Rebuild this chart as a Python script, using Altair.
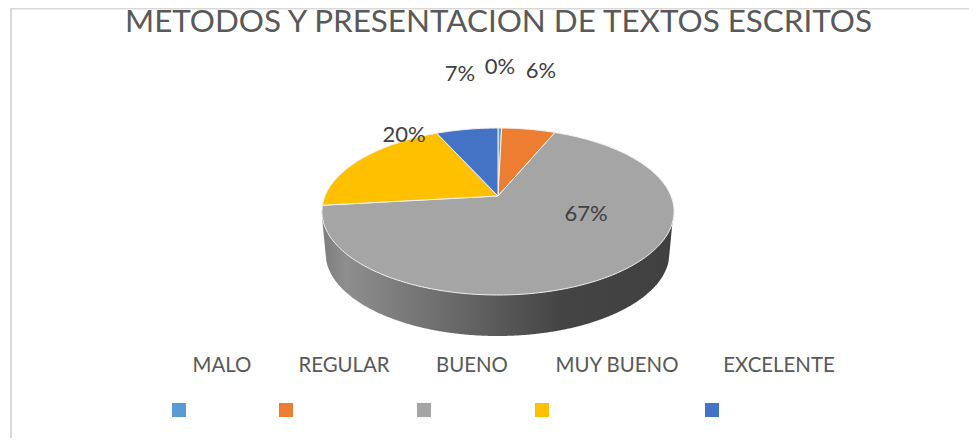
import math
import altair as alt
import pandas as pd

# ---- values
CATEGORIES = ["MALO", "REGULAR", "BUENO", "MUY BUENO", "EXCELENTE"]
VALUES = [0.4, 5.9, 66.9, 20.0, 6.8]
LABELS = ["0%", "6%", "67%", "20%", "7%"]
COLORS = ["#5B9BD5", "#ED7D31", "#A5A5A5", "#FFC000", "#4472C4"]
TITLE = "METODOS Y PRESENTACION DE TEXTOS ESCRITOS"

# ---- layout (page pixels)
W, H = 961, 430
OX, OY = 8, 8
APEX_X, APEX_Y = 498, 196
TOP_Y, BOT_Y = 128, 295
RADIUS_X = 173
LABEL_X = [500, 541, 586, 404, 460]
LABEL_Y = [67, 71, 214, 135, 74]
KEY_TEXT_X = [222, 344, 472, 617, 779]
KEY_BOX_X = [179, 286, 424, 542, 712]
KEY_TEXT_Y, KEY_BOX_Y = 366, 410

# perspective mapping of a tilted disc
c = (TOP_Y + BOT_Y - 2 * APEX_Y) / (BOT_Y - TOP_Y)
b = TOP_Y * (1 + c) - APEX_Y


def disc(theta):
    d = 1 + c * math.cos(theta)
    return APEX_X + RADIUS_X * math.sin(theta) / d, (APEX_Y + b * math.cos(theta)) / d


rows = []
total = sum(VALUES)
acc = 0.0
for cat, val in zip(CATEGORIES, VALUES):
    a0 = acc / total * 2 * math.pi
    acc += val
    a1 = acc / total * 2 * math.pi
    n = max(2, int((a1 - a0) * 60))
    pts = [(APEX_X, APEX_Y)]
    pts += [disc(a0 + (a1 - a0) * i / n) for i in range(n + 1)]
    pts += [(APEX_X, APEX_Y)]
    for i, (x, y) in enumerate(pts):
        rows.append({"cat": cat, "i": i, "x": x, "y": y})
wedges = pd.DataFrame(rows)

# side wall: bounded by the lower rim
WALL_CX, WALL_CY, WALL_RX, WALL_RY = 497.5, 253, 172, 83
FACE_RX, FACE_CY = 176, 211
wall_rows = []
for i in range(-176, 177):
    u = float(i) * FACE_RX / 176
    if abs(u) <= WALL_RX:
        y2 = WALL_CY + WALL_RY * math.sqrt(1 - (u / WALL_RX) ** 2)
    else:
        y2 = WALL_CY + (abs(u) - WALL_RX) / (FACE_RX - WALL_RX) * (FACE_CY - WALL_CY)
    wall_rows.append({"x": WALL_CX + u, "y": FACE_CY, "y2": y2})
wall = pd.DataFrame(wall_rows)

xs = alt.Scale(domain=[OX, OX + W], range=[0, W], nice=False, zero=False)
ys = alt.Scale(domain=[OY, OY + H], range=[0, H], nice=False, zero=False)
X = alt.X("x:Q", scale=xs, axis=None)
Y = alt.Y("y:Q", scale=ys, axis=None)
color_scale = alt.Scale(domain=CATEGORIES, range=COLORS)
FONT = "Lato"

frame = pd.DataFrame({"x": [11.0, 11.0, OX + W], "y": [OY + H, 8.5, 8.5]})
frame_layer = alt.Chart(frame).mark_line(color="#D9D9D9", strokeWidth=2).encode(
    x=X, y=Y, order=alt.Order("idx:Q")
).transform_window(idx="row_number()")

wall_layer = alt.Chart(wall).mark_area(
    color=alt.Gradient(
        gradient="linear", x1=0, x2=1, y1=0, y2=0,
        stops=[
            alt.GradientStop(offset=0, color="#7C7C7C"),
            alt.GradientStop(offset=0.07, color="#8E8E8E"),
            alt.GradientStop(offset=0.35, color="#6C6C6C"),
            alt.GradientStop(offset=0.68, color="#444444"),
            alt.GradientStop(offset=1, color="#404040"),
        ],
    )
).encode(x=X, y=Y, y2="y2:Q")

wedge_layer = alt.Chart(wedges).mark_line(
    filled=True, stroke="#F2F2F2", strokeWidth=1, interpolate="linear"
).encode(
    x=X, y=Y,
    color=alt.Color("cat:N", scale=color_scale, legend=None),
    order=alt.Order("i:Q"),
)

title_layer = alt.Chart(pd.DataFrame({"t": [TITLE], "x": [498.5], "y": [23]})).mark_text(
    font=FONT, fontSize=31.4, color="#595959", align="center", baseline="middle"
).encode(x=X, y=Y, text="t:N")

labels_df = pd.DataFrame({"t": LABELS, "x": LABEL_X, "y": LABEL_Y})
label_layer = alt.Chart(labels_df).mark_text(
    font=FONT, fontSize=22, color="#404040", align="center", baseline="middle"
).encode(x=X, y=Y, text="t:N")

key_df = pd.DataFrame({
    "cat": CATEGORIES, "x": KEY_TEXT_X, "bx": KEY_BOX_X,
    "y": [KEY_TEXT_Y] * 5, "by": [KEY_BOX_Y] * 5,
})
key_text = alt.Chart(key_df).mark_text(
    font=FONT, fontSize=20.4, color="#595959", align="center", baseline="middle"
).encode(x=X, y=Y, text="cat:N")
key_box = alt.Chart(key_df).mark_square(size=196, opacity=1, filled=True).encode(
    x=alt.X("bx:Q", scale=xs, axis=None),
    y=alt.Y("by:Q", scale=ys, axis=None),
    color=alt.Color("cat:N", scale=color_scale, legend=None),
)

chart = alt.layer(
    frame_layer, wall_layer, wedge_layer, title_layer, label_layer, key_text, key_box
).properties(
    width=W, height=H, padding=0,
    autosize=alt.AutoSizeParams(type="none"),
    background="white",
).configure_view(stroke=None)

chart.save("out.html", embed_options={"renderer": "svg", "actions": False})
